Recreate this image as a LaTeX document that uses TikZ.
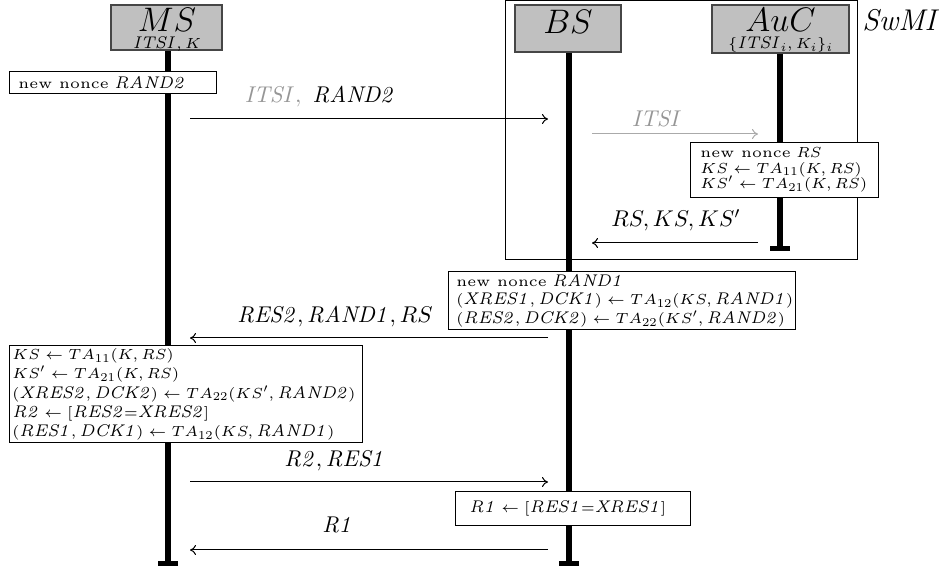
\RequirePackage{fix-cm}
\documentclass[tikz,border=0pt]{standalone}
\usepackage{amsmath}
\usetikzlibrary{arrows.meta}
% small-design-size fonts, used scaled up inside the boxes
\DeclareFontFamily{OML}{cmmsm}{\skewchar\font127 }
\DeclareFontShape{OML}{cmmsm}{m}{it}{<->cmmi6}{}
\DeclareFontFamily{OT1}{cmrsm}{\hyphenchar\font45 }
\DeclareFontShape{OT1}{cmrsm}{m}{n}{<->cmr6}{}
\DeclareFontShape{OT1}{cmrsm}{m}{it}{<->s*[1.16]cmti7}{}
\DeclareFontFamily{OT1}{cmrnn}{\hyphenchar\font45 }
\DeclareFontShape{OT1}{cmrnn}{m}{n}{<->cmr5}{}
\DeclareFontFamily{OMS}{cmsysm}{\skewchar\font48 }
\DeclareFontShape{OMS}{cmsysm}{m}{n}{<->cmsy6}{}
\DeclareMathVersion{small}
\SetSymbolFont{operators}{small}{OT1}{cmrsm}{m}{n}
\SetSymbolFont{letters}{small}{OML}{cmmsm}{m}{it}
\SetSymbolFont{symbols}{small}{OMS}{cmsysm}{m}{n}
\SetSymbolFont{largesymbols}{small}{OMX}{cmex}{m}{n}
\SetMathAlphabet{\mathit}{small}{OT1}{cmrsm}{m}{it}
\DeclareMathSizes{7.3}{7.3}{6}{5}
\definecolor{actorfill}{RGB}{192,192,192}
\definecolor{actorline}{RGB}{70,70,70}
\definecolor{softgray}{RGB}{150,150,150}
\definecolor{arrowgray}{RGB}{170,170,170}
\newcommand{\nn}{{\fontencoding{OT1}\fontfamily{cmrnn}\fontshape{n}\selectfont new nonce}}
\newcommand{\tightlines}{\lineskiplimit=-20pt\relax}
\newcommand{\smallset}[1]{\mathversion{small}\fontsize{7.3}{#1}\selectfont\tightlines}
\tikzset{
  actor/.style={draw=actorline, line width=0.8pt, fill=actorfill, inner sep=0pt},
  bigname/.style={inner sep=0pt, font=\fontsize{17}{17}\selectfont},
  smallname/.style={inner sep=0pt, font={\smallset{8}}},
  lifeline/.style={line width=2.6pt, -{Bar[width=10pt,length=0pt]}},
  msg/.style={line width=0.5pt, -{To[length=3pt,width=5pt]}},
  graymsg/.style={msg, draw=arrowgray},
  msglabel/.style={inner sep=0pt, font=\fontsize{11.4}{11.4}\selectfont},
  procbox/.style={draw, line width=0.5pt, fill=white, inner sep=0pt},
  proctext/.style={inner sep=0pt, anchor=west, align=left},
  group/.style={draw, line width=0.5pt, inner sep=0pt}
}
\begin{document}
\begin{tikzpicture}[x=0.5pt,y=-0.5pt]
\useasboundingbox (0,0) rectangle (944,572);
% SwMI group
\node[group, minimum width=176pt, minimum height=129.5pt] (swmi) at (681,130.25) {};
\node[inner sep=0pt, anchor=west, font=\fontsize{15}{15}\selectfont] (swmilabel) at (862,20) {$\mathit{SwMI}$};
% actors
\node[actor, minimum width=55.5pt, minimum height=22.5pt] (ms) at (166.5,27.5) {};
\node[bigname] (msname) at (167,19.5) {$MS$};
\node[smallname] (msinfo) at (167,44) {$\mathit{ITSI}, K$};
\node[actor, minimum width=53pt, minimum height=23.5pt] (bs) at (568,28.5) {};
\node[bigname] (bsname) at (568,22) {$BS$};
\node[actor, minimum width=68.5pt, minimum height=24pt] (auc) at (780.5,29) {};
\node[bigname] (aucname) at (780.5,19.5) {$AuC$};
\node[smallname] (aucinfo) at (780.5,45) {$\{\mathit{ITSI}_i, K_i\}_i$};
% lifeline ends
\coordinate (msend) at (168,566);
\coordinate (bsend) at (569,566);
\coordinate (aucend) at (780,251);
\draw[lifeline] (ms.south -| msend) -- (msend);
\draw[lifeline] (bs.south -| bsend) -- (bsend);
\draw[lifeline] (auc.south -| aucend) -- (aucend);
% process boxes
\node[procbox, minimum width=103.5pt, minimum height=11pt] (p1) at (112.5,83) {};
\node[proctext, font={\smallset{8}}] (t1) at (18,83) {\nn{} $\mathit{RAND2}$};
\node[procbox, minimum width=94pt, minimum height=27.5pt] (p2) at (784,170.5) {};
\node[proctext, font={\smallset{7.6}}] (t2) at (700,170) {\nn{} $RS$\\ $KS \leftarrow TA_{11}(K, RS)$\\ $KS' \leftarrow TA_{21}(K, RS)$};
\node[procbox, minimum width=173.5pt, minimum height=29pt] (p3) at (621.5,301) {};
\node[proctext, font={\smallset{9.2}}] (t3) at (456,301) {\nn{} $\mathit{RAND1}$\\ $(\mathit{XRES1}, \mathit{DCK1}) \leftarrow TA_{12}(KS, \mathit{RAND1})$\\ $(\mathit{RES2}, \mathit{DCK2}) \leftarrow TA_{22}(KS', \mathit{RAND2})$};
\node[procbox, minimum width=176.5pt, minimum height=48.5pt] (p4) at (185.5,394.5) {};
\node[proctext, font={\smallset{9.6}}] (t4) at (12,394.5) {$KS \leftarrow TA_{11}(K, RS)$\\ $KS' \leftarrow TA_{21}(K, RS)$\\ $(\mathit{XRES2}, \mathit{DCK2}) \leftarrow TA_{22}(KS', \mathit{RAND2})$\\ $\mathit{R2} \leftarrow [\mathit{RES2}{=}\mathit{XRES2}]$\\ $(\mathit{RES1}, \mathit{DCK1}) \leftarrow TA_{12}(KS, \mathit{RAND1})$};
\node[procbox, minimum width=117.5pt, minimum height=17pt] (p5) at (572.5,509) {};
\node[proctext, font={\smallset{8}}] (t5) at (469,509) {$\mathit{R1} \leftarrow [\mathit{RES1}{=}\mathit{XRES1}]$};
% message endpoints
\coordinate (m1s) at (190,119); \coordinate (m1e) at (548,119);
\coordinate (m2s) at (592,134); \coordinate (m2e) at (758,134);
\coordinate (m3s) at (758,243); \coordinate (m3e) at (592,243);
\coordinate (m4s) at (548,338); \coordinate (m4e) at (190,338);
\coordinate (m5s) at (190,482); \coordinate (m5e) at (548,482);
\coordinate (m6s) at (548,550); \coordinate (m6e) at (190,550);
\draw[msg] (m1s) -- (m1e);
\node[msglabel] (l1) at (320,97) {$\color{softgray}\mathit{ITSI},\ \color{black}\mathit{RAND2}$};
\draw[graymsg] (m2s) -- (m2e);
\node[msglabel] (l2) at (657,119) {$\color{softgray}\mathit{ITSI}$};
\draw[msg] (m3s) -- (m3e);
\node[msglabel] (l3) at (676,220) {$RS, KS, KS'$};
\draw[msg] (m4s) -- (m4e);
\node[msglabel] (l4) at (335,317) {$\mathit{RES2}, \mathit{RAND1}, RS$};
\draw[msg] (m5s) -- (m5e);
\node[msglabel] (l5) at (335,461) {$\mathit{R2}, \mathit{RES1}$};
\draw[msg] (m6s) -- (m6e);
\node[msglabel] (l6) at (338,525) {$\mathit{R1}$};
\end{tikzpicture}
\end{document}
